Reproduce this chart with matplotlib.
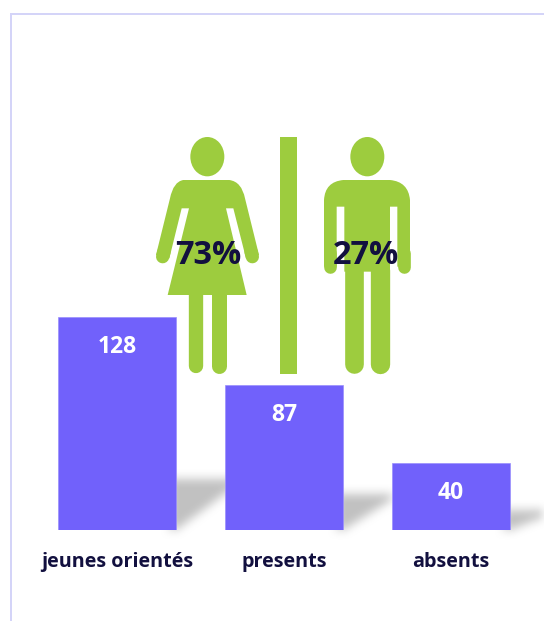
import numpy as np
import matplotlib
matplotlib.use("Agg")
import matplotlib.pyplot as plt
from matplotlib.path import Path
from matplotlib.patches import PathPatch, Ellipse, Rectangle

categories = ["jeunes orientés", "presents", "absents"]
values = [128, 87, 40]
share_labels = ["73%", "27%"]

W, H = 544, 621
DPI = 100
PX = 72 / DPI
BAR = "#7161fb"
GREEN = "#9dcc3e"
INK = "#12103f"
EDGE = "#d4d4f8"
plt.rcParams["font.family"] = ["Open Sans", "DejaVu Sans"]

fig = plt.figure(figsize=(W / DPI, H / DPI), dpi=DPI, facecolor="white")

# pixel-space layer for decoration (frame, shadows, pictogram)
bg = fig.add_axes([0, 0, 1, 1], zorder=1)
bg.set_xlim(0, W); bg.set_ylim(H, 0); bg.axis("off")

# data axes
base_px, unit_px, step_px, first_px, bar_px = 530, 1.664, 167, 117, 118
ax = fig.add_axes([0, (H - base_px) / H, 1, base_px / H], zorder=2)
ax.patch.set_alpha(0)
ax.set_xlim(-first_px / step_px, (W - first_px) / step_px)
ax.set_ylim(0, base_px / unit_px)
for s in ax.spines.values():
    s.set_visible(False)
ax.set_yticks([])
x = np.arange(len(values))
bars = ax.bar(x, values, width=bar_px / step_px, color=BAR, edgecolor="#9a8ffc", linewidth=0.5)
ax.set_xticks(x, categories, fontsize=14.2, fontweight="bold", color=INK)
ax.tick_params(axis="x", length=0, pad=16)
for xi, v in zip(x, values):
    ax.annotate(str(v), (xi, v), xytext=(0, -30 * PX), textcoords="offset points",
                ha="center", va="center", color="white", fontsize=16.5, fontweight="bold")

# frame
bg.plot([11, 11, W], [H, 14, 14], color=EDGE, lw=2 * PX, solid_joinstyle="miter")

# blurred shadows behind bars
yy, xx = np.mgrid[0:H, 0:W]
grid = np.column_stack([xx.ravel() + .5, yy.ravel() + .5])
alpha = np.zeros((H, W))
for xi, v in zip(x, values):
    hpx = v * unit_px
    right = first_px + xi * step_px + bar_px / 2
    rise = 0.21 * hpx + 6
    run = 24 + 0.17 * hpx
    poly = Path([(right - 6, base_px), (right, base_px), (right + run, base_px - rise + 6),
                 (right + run, base_px - rise), (right - 6, base_px - rise)])
    alpha = np.maximum(alpha, poly.contains_points(grid).reshape(H, W).astype(float))
kernel = np.ones(11) / 11
for _ in range(2):
    alpha = np.apply_along_axis(lambda r: np.convolve(r, kernel, mode="same"), 0, alpha)
    alpha = np.apply_along_axis(lambda r: np.convolve(r, kernel, mode="same"), 1, alpha)
img = np.zeros((H, W, 4))
img[..., :3] = 0.76
img[..., 3] = alpha
bg.imshow(img, extent=(0, W, H, 0), aspect="auto", interpolation="bilinear", zorder=1)
bg.set_xlim(0, W); bg.set_ylim(H, 0)

# pictogram (positions are from a 3x crop anchored at 140,120)
def P(zx, zy):
    return 140 + zx / 3, 120 + zy / 3

def shape(cmds):
    verts, codes = [], []
    for c, *pts in cmds:
        code = {"M": Path.MOVETO, "L": Path.LINETO, "Q": Path.CURVE3}[c]
        for p in pts:
            verts.append(P(*p)); codes.append(code)
    verts.append(verts[0]); codes.append(Path.CLOSEPOLY)
    bg.add_patch(PathPatch(Path(verts, codes), fc=GREEN, ec="none", zorder=3))

def limb(pts, width):
    xs, ys = zip(*[P(*p) for p in pts])
    bg.plot(xs, ys, color=GREEN, lw=width / 3 * PX, solid_capstyle="round", zorder=3)

def head(cx):
    c = P(cx, 110)
    bg.add_patch(Ellipse(c, 102 / 3, 118 / 3, fc=GREEN, ec="none", zorder=3))

# woman
head(202)
shape([("M", (130, 180)), ("L", (268, 180)), ("Q", (305, 185), (315, 235)),
       ("L", (357, 405)), ("L", (318, 415)), ("L", (280, 265)), ("L", (258, 265)),
       ("L", (320, 525)), ("L", (83, 525)), ("L", (147, 265)), ("L", (125, 265)),
       ("L", (88, 415)), ("L", (48, 405)), ("L", (90, 235)), ("Q", (100, 185), (130, 180))])
limb([(68, 410), (72, 395)], 40)
limb([(337, 410), (333, 395)], 40)
limb([(168, 520), (168, 738)], 43)
limb([(236, 520), (236, 738)], 45)

# pole
bg.add_patch(Rectangle(P(420, 52), 50 / 3, 710 / 3, fc=GREEN, ec="none", zorder=3))

# man
head(682)
shape([("M", (610, 180)), ("L", (750, 180)), ("Q", (805, 185), (810, 240)),
       ("L", (810, 440)), ("L", (772, 440)), ("L", (772, 260)), ("L", (750, 260)),
       ("L", (750, 455)), ("L", (613, 455)), ("L", (613, 260)), ("L", (590, 260)),
       ("L", (590, 440)), ("L", (552, 440)), ("L", (552, 240)), ("Q", (555, 185), (610, 180))])
limb([(571, 400), (571, 441)], 38)
limb([(791, 400), (791, 441)], 38)
limb([(641, 450), (641, 732)], 56)
limb([(721, 450), (721, 732)], 58)

# percentages
for cx, s in zip((208, 366), share_labels):
    bg.text(cx, 255, s, ha="center", va="center", color=INK, fontsize=23.4, fontweight="bold", zorder=4)

fig.savefig("out.png", dpi=DPI)
